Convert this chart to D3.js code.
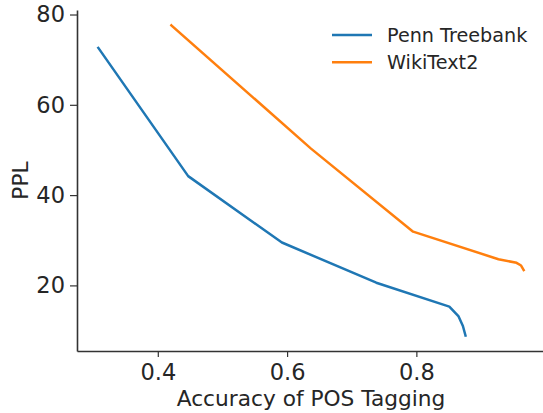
<!DOCTYPE html>
<html><head><meta charset="utf-8">
<script src="https://cdn.jsdelivr.net/npm/d3@7"></script>
<style>body{margin:0;background:#fff}svg{display:block}text{font-family:"DejaVu Sans",sans-serif;fill:#262626}</style>
</head><body>
<svg id="c" width="543" height="413"></svg>
<script>
const seriesNames = ["Penn Treebank", "WikiText2"];
const seriesColors = ["#1f77b4", "#ff7f0e"];
const pennX = [0.308, 0.447, 0.592, 0.738, 0.851, 0.865, 0.872, 0.876];
const pennY = [72.6, 44.2, 29.5, 20.6, 15.3, 13.2, 11.0, 8.9];
const wikiX = [0.421, 0.637, 0.795, 0.927, 0.955, 0.962, 0.966];
const wikiY = [77.6, 50.3, 31.9, 25.8, 25.0, 24.4, 23.4];
const xTicks = [0.4, 0.6, 0.8];
const yTicks = [20, 40, 60, 80];

const svg = d3.select("#c");
const L = 77, R = 545, T = 10, B = 351;
const x = d3.scaleLinear().domain([0.275, 0.999]).range([L, R]);
const y = d3.scaleLinear().domain([5.47, 81.0]).range([B, T]);

const series = [pennX.map((v,i)=>[v, pennY[i]]), wikiX.map((v,i)=>[v, wikiY[i]])];
const line = d3.line().x(d=>x(d[0])).y(d=>y(d[1]));
series.forEach((s,i)=>{
  svg.append("path").attr("d", line(s)).attr("fill","none")
    .attr("stroke", seriesColors[i]).attr("stroke-width", 2.5)
    .attr("stroke-linejoin","round").attr("stroke-linecap","square");
});

const xa = svg.append("g").attr("transform",`translate(0,${B})`)
  .call(d3.axisBottom(x).tickValues(xTicks).tickFormat(d3.format(".1f")).tickSize(6).tickSizeOuter(0).tickPadding(7));
const ya = svg.append("g").attr("transform",`translate(${L},0)`)
  .call(d3.axisLeft(y).tickValues(yTicks).tickFormat(d3.format("d")).tickSize(7).tickSizeOuter(0).tickPadding(5));
[xa, ya].forEach(a=>{
  a.select(".domain").attr("stroke","#333").attr("stroke-width",1.6);
  a.selectAll(".tick line").attr("stroke","#333").attr("stroke-width",1.2);
  a.selectAll(".tick text").attr("font-size", 22.5).attr("font-family","DejaVu Sans").attr("fill","#262626");
});

svg.append("text").attr("x", (L+R)/2).attr("y", 406).attr("text-anchor","middle")
  .attr("font-size", 21.7).text("Accuracy of POS Tagging");
svg.append("text").attr("transform", `translate(28,${(T+B)/2}) rotate(-90)`).attr("text-anchor","middle")
  .attr("font-size", 21.7).text("PPL");

const lg = svg.append("g");
seriesNames.forEach((n,i)=>{
  const yy = 35 + i*27.3;
  lg.append("line").attr("x1",332).attr("x2",372).attr("y1",yy).attr("y2",yy)
    .attr("stroke",seriesColors[i]).attr("stroke-width",2.5);
  lg.append("text").attr("x",387).attr("y",yy).attr("dy","0.35em").attr("font-size",19.2).text(n);
});
</script>
</body></html>
